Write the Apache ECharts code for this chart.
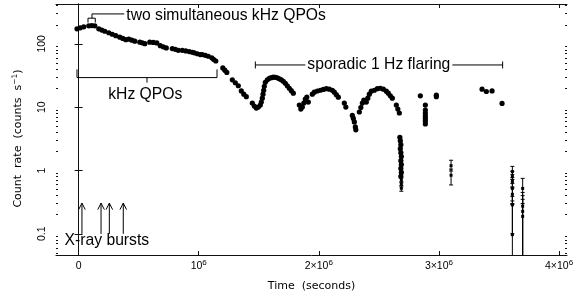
<!DOCTYPE html>
<html><head><meta charset="utf-8">
<script src="https://cdn.jsdelivr.net/npm/echarts@6/dist/echarts.min.js"></script>
<style>html,body{margin:0;padding:0;background:#fff}#c{width:587px;height:297px}</style>
</head><body><div id="c"></div>
<script>
// ---- data (time in units of 10^6 s, count rate in counts/s) ----
const decayTimes = [-0.0133,0.0142,0.0433, 0.0849,0.1099,0.1349, 0.1682,0.1932,0.2182, 0.2515,0.2806,0.3097,
  0.3430,0.3680,0.3930, 0.4180,0.4430,0.4679, 0.5096,0.5304,0.5512, 0.5928,0.6220,0.6511, 0.6803,0.7052,0.7302,
  0.7802,0.8052,0.8301, 0.8634,0.8926,0.9217,0.9467, 0.9634,0.9883,1.0133, 1.0300,1.0549,1.0799, 1.1091,1.1257,1.1424,
  1.2007,1.2173,1.2340, 1.2798,1.3047,1.3297, 1.3547,1.3755,1.3963];
const decayRates = [172.9,179.3,185.8, 192.7,194.1,192.7, 172.9,165.0,158.0, 149.7,141.8,134.4,
  127.3,121.9,116.3, 118.5,114.3,110.2, 106.3,103.7,100.7, 106.3,105.2,103.3, 93.7,89.8,86.3,
  84.1,81.8,79.1, 79.1,77.4,75.5,73.6, 72.1,69.8,67.8, 67.8,65.8,63.7, 60.2,56.6,53.6,
  41.7,38.4,35.4, 27.0,24.3,21.8, 18.04,16.03,14.65];
const flareTimes = [1.4463,1.4629,1.4796,1.4963,1.5129,1.5212, 1.5295,1.5354,1.5412,1.5462,
  1.5545,1.5712,1.5878,1.6045,1.6211,1.6378,1.6545,1.6711,1.6878,1.7044,1.7211,1.7377,1.7544,1.7710,1.7877,
  1.8376,1.8501,1.8626, 1.8751,1.8876,1.9001,1.9126,
  1.9459,1.9625,1.9875,2.0125,2.0375,2.0624,2.0874,2.1124,2.1291,2.1457,2.1624,
  2.2123,2.2248, 2.2789,2.2873,2.2956,2.3039,2.3081,
  2.3372,2.3497,2.3622,2.3747, 2.3955,2.4080,2.4205,2.4371, 2.4621,2.4871,2.5121,2.5371,
  2.5620,2.5787,2.5953,2.6120, 2.6453,2.6578,2.6703];
const flareRates = [11.59,10.40,9.68,10.04,10.79,12.02, 13.88,16.03,18.50,21.38,
  24.70,27.0,28.54,29.27,29.80,29.59,29.05,28.02,27.0,25.61,23.84,21.8,19.90,18.19,16.62,
  10.79,9.34,10.04, 11.59,13.39,14.38,12.02,
  16.03,17.23,17.99,18.50,19.06,19.55,19.20,18.50,17.23,15.75,14.38,
  11.59,10.04, 7.39,6.63,5.85,4.88,4.38,
  8.38,9.86,11.59,12.92, 12.02,13.88,16.03,17.86, 18.50,19.55,19.90,19.20,
  17.86,16.62,15.08,13.88, 10.79,9.34,8.08];
const dropTimes = [2.6745,2.6786,2.6828,2.6786,2.6828,2.6870,2.6828,2.6870,2.6828,2.6870,2.6828];
const dropRates = [3.34,2.95,2.55,2.21,1.91,1.66,1.43,1.24,1.075,0.93,0.806];
const lateTimes = [2.8451, 2.8868,2.8868,2.8868,2.8868,2.8868,2.8868,2.8868, 2.9784,2.9784, 3.3589,3.3947,3.4421,3.5254];
const lateRates = [15.08, 10.79,9.01,8.08,7.26,6.63,6.06,5.44, 15.47,14.65, 19.20,17.67,18.04,11.47];
// faint points with error bars
const errTimes = [2.6870,2.6870,2.6870, 3.1008,3.1008, 3.6112,3.6112,3.6112,3.6112,3.6112,3.6112,3.6112, 3.6969,3.6969,3.6969,3.6969];
const errRates = [0.698,0.604,0.523, 1.19,0.84, 0.96,0.80,0.67,0.52,0.42,0.286,0.097, 0.52,0.273,0.226,0.188];
const errLow   = [0.64,0.55,0.47, 0.98,0.59, 0.77,0.62,0.53,0.33,0.29,0.10,0.01, 0.30,0.01,0.01,0.01];
const errHigh  = [0.76,0.66,0.58, 1.45,1.05, 1.16,0.97,0.86,0.72,0.55,0.39,0.30, 0.75,0.45,0.40,0.35];
// X-ray burst times (10^6 s)
const burstTimes = [0.028, 0.187, 0.256, 0.372];
// axis ticks
const xTicks = [0, 1e6, 2e6, 3e6, 4e6];
const yMajor = [0.1, 1, 10, 100];
const yMinor = [0.05,0.06,0.07,0.08,0.09, 0.2,0.3,0.4,0.5,0.6,0.7,0.8,0.9, 2,3,4,5,6,7,8,9, 20,30,40,50,60,70,80,90, 200,300,400];

const M = 1e6;
const pairs = (ts, rs) => ts.map((t, i) => [t * M, rs[i]]);
const mainData = [].concat(pairs(decayTimes, decayRates), pairs(flareTimes, flareRates), pairs(dropTimes, dropRates), pairs(lateTimes, lateRates));
const errPts = pairs(errTimes, errRates);
const errBars = errTimes.map((t, i) => [t * M, errLow[i], errHigh[i]]);

const FONT = '"Liberation Sans", Arial, Helvetica, sans-serif';
const TFONT = '"DejaVu Sans", sans-serif';
const AX = '#111';
const yMin = 0.0462, yMax = 426, xMin = -0.188e6, xMax = 4.066e6;

const chart = echarts.init(document.getElementById('c'), null, {renderer: 'canvas'});
const yBase = {type: 'log', logBase: 10, min: yMin, max: yMax, splitLine: {show: false}};
const option = {
  animation: false,
  backgroundColor: '#fff',
  grid: {left: 56, right: 20, top: 4, bottom: 40},
  xAxis: [
    {type: 'value', min: xMin, max: xMax, position: 'bottom', splitLine: {show: false},
     axisLine: {show: true, lineStyle: {color: AX, width: 1}},
     axisTick: {inside: true, length: 4, customValues: xTicks, lineStyle: {color: AX}},
     axisLabel: {customValues: xTicks, margin: 4, color: '#000', fontFamily: FONT, fontSize: 10.5,
       formatter: v => { const m = Math.round(v / M); if (m === 0) return '{b|0}'; if (m === 1) return '{b|10}{s|6}'; return '{b|' + m + '×10}{s|6}'; },
       rich: {b: {fontFamily: FONT, fontSize: 10.5, color: '#000', lineHeight: 14}, s: {fontFamily: FONT, fontSize: 8, color: '#000', verticalAlign: 'top', lineHeight: 8}}},
     name: 'Time  (seconds)', nameLocation: 'middle', nameGap: 26,
     nameTextStyle: {fontFamily: TFONT, fontSize: 11, color: '#000'}},
    {type: 'value', min: xMin, max: xMax, position: 'top', splitLine: {show: false},
     axisLine: {show: true, lineStyle: {color: AX, width: 1}},
     axisTick: {inside: true, length: 4, customValues: xTicks, lineStyle: {color: AX}},
     axisLabel: {show: false}}
  ],
  yAxis: [
    Object.assign({}, yBase, {position: 'left',
      axisLine: {show: true, lineStyle: {color: AX, width: 1}},
      axisTick: {inside: true, length: 4, customValues: yMajor, lineStyle: {color: AX}},
      axisLabel: {customValues: yMajor, rotate: 90, margin: 8, color: '#000', fontFamily: FONT, fontSize: 10.5,
        formatter: v => (v < 0.5 ? '0.1' : String(Math.round(v)))},
      name: '{a|Count  rate  (counts  s}{s|−1}{a|)}', nameLocation: 'middle', nameRotate: 90, nameGap: 31,
      nameTextStyle: {padding: [0, 18, 0, 0],
        rich: {a: {fontFamily: TFONT, fontSize: 11, color: '#000', lineHeight: 14},
               s: {fontFamily: TFONT, fontSize: 7.5, color: '#000', verticalAlign: 'top', lineHeight: 8}}}}),
    Object.assign({}, yBase, {position: 'right',
      axisLine: {show: true, lineStyle: {color: AX, width: 1}},
      axisTick: {inside: true, length: 4, customValues: yMajor, lineStyle: {color: AX}},
      axisLabel: {show: false}}),
    Object.assign({}, yBase, {position: 'left', axisLine: {show: false},
      axisTick: {inside: true, length: 2, customValues: yMinor, lineStyle: {color: AX}}, axisLabel: {show: false}}),
    Object.assign({}, yBase, {position: 'right', axisLine: {show: false},
      axisTick: {inside: true, length: 2, customValues: yMinor, lineStyle: {color: AX}}, axisLabel: {show: false}})
  ],
  series: [
    {type: 'custom', name: 'errors', xAxisIndex: 0, yAxisIndex: 0, data: errBars, z: 3,
     renderItem: (params, api) => {
       const x = api.value(0);
       const top = api.coord([x, api.value(2)]);
       const bot = api.coord([x, api.value(1)]);
       const cs = params.coordSys;
       const bottom = cs.y + cs.height;
       const yb = Math.min(bot[1], bottom);
       const kids = [
         {type: 'line', shape: {x1: top[0], y1: top[1], x2: top[0], y2: yb}, style: {stroke: '#000', lineWidth: 1}},
         {type: 'line', shape: {x1: top[0] - 2, y1: top[1], x2: top[0] + 2, y2: top[1]}, style: {stroke: '#000', lineWidth: 1}}
       ];
       if (bot[1] < bottom) kids.push({type: 'line', shape: {x1: bot[0] - 2, y1: bot[1], x2: bot[0] + 2, y2: bot[1]}, style: {stroke: '#000', lineWidth: 1}});
       return {type: 'group', children: kids};
     }},
    {type: 'scatter', name: 'faint', data: errPts, symbol: 'rect', symbolSize: 3, itemStyle: {color: '#000', opacity: 1}, z: 4},
    {type: 'scatter', name: 'rate', data: mainData, symbol: 'circle', symbolSize: 5.2, itemStyle: {color: '#000', opacity: 1}, z: 4}
  ]
};
chart.setOption(option);

// ---- annotations positioned in data space ----
const P = (t, r) => chart.convertToPixel({xAxisIndex: 0, yAxisIndex: 0}, [t * M, r]);
const ln = pts => ({type: 'polyline', shape: {points: pts}, style: {stroke: '#000', lineWidth: 1, fill: null}, z: 10});
const AFONT = '15.7px "Liberation Sans", Arial, Helvetica, sans-serif';
const txt = (p, s, align, bg) => ({type: 'text', x: p[0], y: p[1], z: 11,
  style: {text: s, font: AFONT, fill: '#000', align: align, verticalAlign: 'middle', backgroundColor: bg || null, padding: bg ? [0, 2] : 0}});
const g = [];
// two simultaneous kHz QPOs
{
  const a = P(0.0783, 217.0), b = P(0.0783, 254.3), c = P(0.1391, 254.3), d = P(0.1391, 217.0);
  g.push(ln([a, b, c, d]));
  const m0 = P(0.1116, 254.3), m1 = P(0.1116, 296.9), m2 = P(0.3805, 296.9);
  g.push(ln([m0, m1, m2]));
  g.push(txt(P(0.397, 274.3), 'two simultaneous kHz QPOs', 'left'));
}
// kHz QPOs bracket
{
  g.push(ln([P(-0.0133, 39.5), P(-0.0133, 29.3), P(1.1524, 29.3), P(1.1524, 39.5)]));
  g.push(ln([P(0.5695, 29.3), P(0.5695, 24.4)]));
  g.push(txt(P(0.555, 15.86), 'kHz QPOs', 'center'));
}
// sporadic flaring
{
  const l = P(1.4714, 46.4), r = P(3.5302, 46.4);
  g.push(ln([l, r]));
  g.push(ln([[l[0], l[1] - 3.5], [l[0], l[1] + 3.5]]));
  g.push(ln([[r[0], r[1] - 3.5], [r[0], r[1] + 3.5]]));
  g.push(txt(P(2.4996, 46.4), 'sporadic 1 Hz flaring', 'center', '#fff'));
}
// X-ray bursts
burstTimes.forEach(t => {
  const tip = P(t, 0.305), base = P(t, 0.0996);
  g.push(ln([base, tip]));
  g.push(ln([[tip[0] - 3.3, tip[1] + 6.5], tip, [tip[0] + 3.3, tip[1] + 6.5]]));
});
g.push(txt(P(-0.1166, 0.0766), 'X-ray bursts', 'left'));
chart.setOption({graphic: g});
</script>
</body></html>
